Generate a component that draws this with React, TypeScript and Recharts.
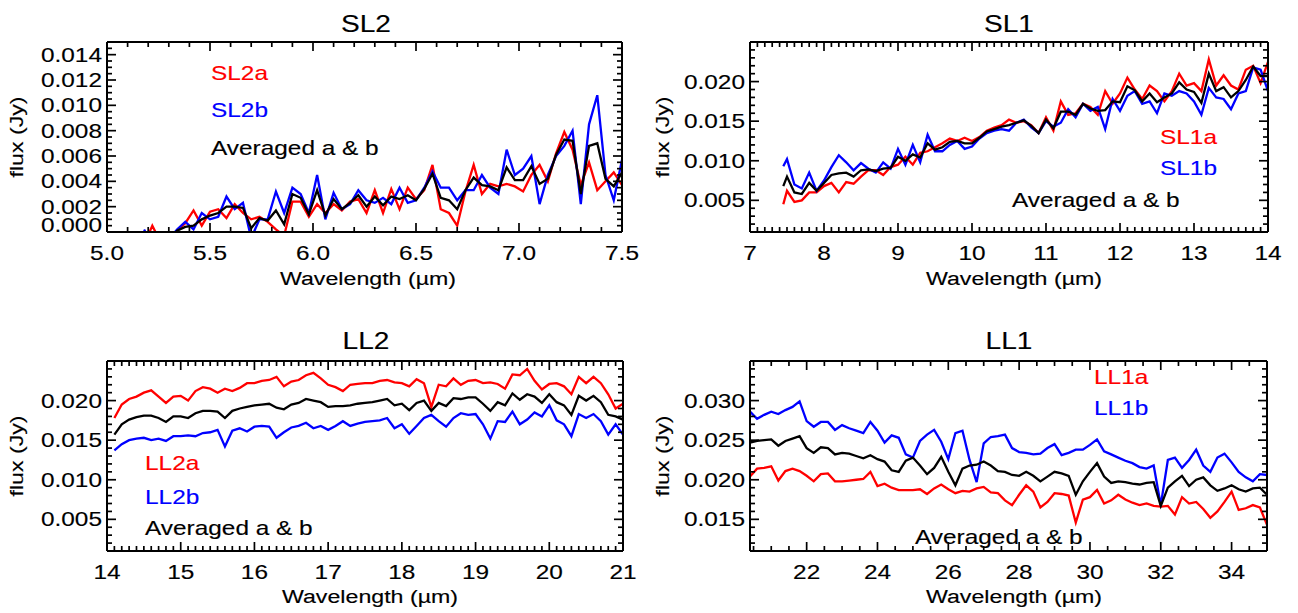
import React from 'react';
import { LineChart, Line, XAxis, YAxis } from 'recharts';

const FONT = '"Liberation Sans", Arial, Helvetica, sans-serif';
const SX = 1.22;

// ---------------- SL2 ----------------
const sl2X = [5.18, 5.22, 5.26, 5.30, 5.34, 5.38, 5.42, 5.46, 5.50, 5.54, 5.58, 5.62, 5.66, 5.70, 5.74, 5.78, 5.82, 5.86, 5.90, 5.94, 5.98, 6.02, 6.06, 6.10, 6.14, 6.18, 6.22, 6.26, 6.30, 6.34, 6.38, 6.42, 6.46, 6.50, 6.54, 6.58, 6.62, 6.66, 6.70, 6.74, 6.78, 6.82, 6.86, 6.90, 6.94, 6.98, 7.02, 7.06, 7.10, 7.14, 7.18, 7.22, 7.26, 7.30, 7.34, 7.38, 7.42, 7.46, 7.50];
const sl2a = [-0.001, 0.0005, -0.0008, -0.001, 0.0001, 0.0007, 0.0017, 0.0005, 0.0016, 0.0018, 0.0011, 0.0022, 0.0015, 0.001, 0.0012, 0.0008, 0.0002, -0.0003, 0.0024, 0.0024, 0.0012, 0.0022, 0.0015, 0.0022, 0.0017, 0.0024, 0.0026, 0.0015, 0.0033, 0.0015, 0.0034, 0.0018, 0.0035, 0.0026, 0.0033, 0.0053, 0.0018, 0.0015, 0.0005, 0.0032, 0.0053, 0.003, 0.0038, 0.0036, 0.0038, 0.0036, 0.0032, 0.0045, 0.0053, 0.004, 0.0062, 0.0079, 0.0065, 0.0037, 0.0055, 0.0033, 0.004, 0.0047, 0.0037];
const sl2b = [0.0002, -0.001, -0.001, -0.0006, 0.0002, 0.0008, 0.0002, 0.0015, 0.001, 0.0012, 0.0028, 0.0018, 0.0023, -0.0005, 0.001, 0.001, 0.0032, 0.0015, 0.0035, 0.003, 0.0015, 0.0045, 0.001, 0.0031, 0.0018, 0.0022, 0.0033, 0.0025, 0.0023, 0.0027, 0.0022, 0.0035, 0.0023, 0.0025, 0.0035, 0.0048, 0.0035, 0.0035, 0.0025, 0.0033, 0.0033, 0.0045, 0.0035, 0.003, 0.0065, 0.0045, 0.005, 0.006, 0.0022, 0.0045, 0.006, 0.0068, 0.008, 0.0022, 0.0085, 0.0108, 0.0045, 0.0025, 0.0057];
const sl2m = [-0.0004, -0.0002, -0.0009, -0.0008, 0.0001, 0.0004, 0.0005, 0.001, 0.0013, 0.0015, 0.002, 0.002, 0.0019, 0.0003, 0.0011, 0.0009, 0.0017, 0.0006, 0.003, 0.0027, 0.0014, 0.0033, 0.0013, 0.0026, 0.0018, 0.0023, 0.0029, 0.002, 0.0028, 0.0021, 0.0028, 0.0026, 0.0029, 0.0025, 0.0034, 0.0046, 0.0027, 0.0025, 0.0018, 0.0033, 0.0043, 0.0037, 0.0036, 0.0033, 0.0051, 0.0041, 0.0041, 0.0052, 0.0038, 0.0042, 0.0061, 0.0073, 0.0072, 0.003, 0.0068, 0.007, 0.0042, 0.0036, 0.0047];
const sl2XTicks = [5.0, 5.5, 6.0, 6.5, 7.0, 7.5];
const sl2YTicks = [0, 0.002, 0.004, 0.006, 0.008, 0.01, 0.012, 0.014];

// ---------------- SL1 ----------------
const sl1X = [7.45, 7.5, 7.6, 7.7, 7.8, 7.9, 8.0, 8.1, 8.2, 8.3, 8.4, 8.5, 8.6, 8.7, 8.8, 8.9, 9.0, 9.1, 9.2, 9.3, 9.4, 9.5, 9.6, 9.7, 9.8, 9.9, 10.0, 10.1, 10.2, 10.3, 10.4, 10.5, 10.6, 10.7, 10.8, 10.9, 11.0, 11.1, 11.2, 11.3, 11.4, 11.5, 11.6, 11.7, 11.8, 11.9, 12.0, 12.1, 12.2, 12.3, 12.4, 12.5, 12.6, 12.7, 12.8, 12.9, 13.0, 13.1, 13.2, 13.3, 13.4, 13.5, 13.6, 13.7, 13.8, 13.9, 14.0];
const sl1a = [0.0045, 0.0062, 0.0048, 0.005, 0.006, 0.006, 0.0068, 0.0072, 0.006, 0.0073, 0.0071, 0.008, 0.0088, 0.0088, 0.0082, 0.0092, 0.0095, 0.0105, 0.0095, 0.011, 0.0112, 0.0117, 0.0122, 0.0128, 0.0125, 0.0129, 0.0125, 0.013, 0.0138, 0.0142, 0.0145, 0.0152, 0.0148, 0.015, 0.0145, 0.0135, 0.0155, 0.0138, 0.0175, 0.0158, 0.016, 0.0172, 0.0168, 0.0158, 0.0188, 0.0172, 0.0185, 0.0205, 0.019, 0.0178, 0.0195, 0.0188, 0.0175, 0.0188, 0.021, 0.0195, 0.0198, 0.0188, 0.0228, 0.0195, 0.0208, 0.0195, 0.019, 0.0215, 0.022, 0.0198, 0.0225];
const sl1b = [0.0093, 0.0102, 0.007, 0.0065, 0.0085, 0.0062, 0.0075, 0.0092, 0.0107, 0.0098, 0.0088, 0.0097, 0.009, 0.0085, 0.0098, 0.009, 0.0115, 0.0095, 0.012, 0.0098, 0.0133, 0.0112, 0.0112, 0.012, 0.0125, 0.0115, 0.0118, 0.0128, 0.0135, 0.0138, 0.014, 0.0138, 0.0148, 0.0152, 0.0142, 0.0135, 0.015, 0.0143, 0.0148, 0.0165, 0.0155, 0.0172, 0.0163, 0.0168, 0.014, 0.0178, 0.0163, 0.0182, 0.0188, 0.0172, 0.0175, 0.016, 0.0185, 0.0182, 0.0188, 0.0185, 0.0175, 0.0158, 0.0192, 0.018, 0.0178, 0.0165, 0.0185, 0.0188, 0.0218, 0.0215, 0.0188];
const sl1m = [0.0068, 0.008, 0.006, 0.0058, 0.0072, 0.0062, 0.0072, 0.0082, 0.0084, 0.0085, 0.008, 0.0088, 0.0089, 0.0087, 0.009, 0.0091, 0.0105, 0.01, 0.0108, 0.0104, 0.0122, 0.0114, 0.0117, 0.0124, 0.0125, 0.0122, 0.0122, 0.0129, 0.0137, 0.014, 0.0143, 0.0145, 0.0148, 0.0151, 0.0144, 0.0135, 0.0152, 0.0141, 0.0162, 0.0162, 0.0158, 0.0172, 0.0166, 0.0163, 0.0164, 0.0175, 0.0174, 0.0194, 0.0189, 0.0175, 0.0185, 0.0174, 0.018, 0.0185, 0.0199, 0.019, 0.0187, 0.0173, 0.021, 0.0188, 0.0193, 0.018, 0.0188, 0.0202, 0.0219, 0.0207, 0.0207];
const sl1XTicks = [7, 8, 9, 10, 11, 12, 13, 14];
const sl1YTicks = [0.005, 0.01, 0.015, 0.02];

// ---------------- LL2 ----------------
const ll2X = [14.1, 14.2, 14.3, 14.4, 14.5, 14.6, 14.7, 14.8, 14.9, 15.0, 15.1, 15.2, 15.3, 15.4, 15.5, 15.6, 15.7, 15.8, 15.9, 16.0, 16.1, 16.2, 16.3, 16.4, 16.5, 16.6, 16.7, 16.8, 16.9, 17.0, 17.1, 17.2, 17.3, 17.4, 17.5, 17.6, 17.7, 17.8, 17.9, 18.0, 18.1, 18.2, 18.3, 18.4, 18.5, 18.6, 18.7, 18.8, 18.9, 19.0, 19.1, 19.2, 19.3, 19.4, 19.5, 19.6, 19.7, 19.8, 19.9, 20.0, 20.1, 20.2, 20.3, 20.4, 20.5, 20.6, 20.7, 20.8, 20.9, 21.0];
const ll2a = [0.0178, 0.0195, 0.0202, 0.0205, 0.021, 0.0213, 0.0205, 0.0197, 0.0205, 0.0206, 0.02, 0.0212, 0.0217, 0.0215, 0.021, 0.0215, 0.0212, 0.0216, 0.0222, 0.0222, 0.0225, 0.0226, 0.023, 0.0218, 0.0224, 0.0226, 0.0232, 0.0235, 0.0228, 0.022, 0.0217, 0.0212, 0.022, 0.0221, 0.0222, 0.0222, 0.0225, 0.0226, 0.0223, 0.0222, 0.0218, 0.0227, 0.0222, 0.0192, 0.022, 0.0218, 0.0228, 0.022, 0.0225, 0.0226, 0.0222, 0.0223, 0.0221, 0.0215, 0.0233, 0.0232, 0.024, 0.0225, 0.0214, 0.0221, 0.0222, 0.0218, 0.0208, 0.023, 0.0222, 0.023, 0.0222, 0.0208, 0.019, 0.0196];
const ll2b = [0.0137, 0.0145, 0.015, 0.0152, 0.0153, 0.015, 0.0152, 0.0149, 0.0155, 0.0155, 0.0156, 0.0155, 0.0159, 0.016, 0.0163, 0.0142, 0.0162, 0.0165, 0.0161, 0.0167, 0.0168, 0.0167, 0.0153, 0.016, 0.0166, 0.0168, 0.0172, 0.0165, 0.0168, 0.0163, 0.0168, 0.0174, 0.0168, 0.0171, 0.0173, 0.0174, 0.0175, 0.0178, 0.0165, 0.017, 0.0158, 0.0168, 0.0178, 0.0182, 0.0174, 0.0167, 0.0178, 0.0184, 0.0182, 0.0183, 0.017, 0.0152, 0.0174, 0.0173, 0.0186, 0.017, 0.0176, 0.0185, 0.018, 0.0194, 0.0175, 0.017, 0.0155, 0.0183, 0.0178, 0.0183, 0.0174, 0.0157, 0.017, 0.0157];
const ll2m = [0.0157, 0.017, 0.0176, 0.0179, 0.0181, 0.0181, 0.0178, 0.0173, 0.018, 0.018, 0.0178, 0.0184, 0.0187, 0.0187, 0.0186, 0.0178, 0.0187, 0.019, 0.0192, 0.0194, 0.0195, 0.0196, 0.0191, 0.0189, 0.0195, 0.0197, 0.0202, 0.02, 0.0198, 0.0192, 0.0193, 0.0193, 0.0194, 0.0196, 0.0197, 0.0198, 0.02, 0.0202, 0.0194, 0.0196, 0.0188, 0.0197, 0.02, 0.0187, 0.0197, 0.0193, 0.0203, 0.0202, 0.0204, 0.0204, 0.0196, 0.0187, 0.0198, 0.0194, 0.0209, 0.0201, 0.0208, 0.0205, 0.0197, 0.0208, 0.0198, 0.0194, 0.0182, 0.0206, 0.02, 0.0206, 0.0198, 0.0182, 0.018, 0.0176];
const ll2XTicks = [14, 15, 16, 17, 18, 19, 20, 21];
const ll2YTicks = [0.005, 0.01, 0.015, 0.02];

// ---------------- LL1 ----------------
const ll1X = [20.4, 20.6, 20.8, 21.0, 21.2, 21.4, 21.6, 21.8, 22.0, 22.2, 22.4, 22.6, 22.8, 23.0, 23.2, 23.4, 23.6, 23.8, 24.0, 24.2, 24.4, 24.6, 24.8, 25.0, 25.2, 25.4, 25.6, 25.8, 26.0, 26.2, 26.4, 26.6, 26.8, 27.0, 27.2, 27.4, 27.6, 27.8, 28.0, 28.2, 28.4, 28.6, 28.8, 29.0, 29.2, 29.4, 29.6, 29.8, 30.0, 30.2, 30.4, 30.6, 30.8, 31.0, 31.2, 31.4, 31.6, 31.8, 32.0, 32.2, 32.4, 32.6, 32.8, 33.0, 33.2, 33.4, 33.6, 33.8, 34.0, 34.2, 34.4, 34.6, 34.8, 35.0];
const ll1a = [0.0204, 0.0214, 0.0215, 0.0217, 0.0199, 0.0211, 0.0214, 0.0211, 0.0205, 0.0198, 0.0207, 0.0208, 0.0198, 0.0198, 0.0199, 0.02, 0.0201, 0.021, 0.0192, 0.0195, 0.019, 0.0187, 0.0187, 0.0187, 0.0188, 0.0182, 0.0189, 0.0194, 0.0188, 0.0183, 0.0186, 0.0185, 0.0189, 0.0191, 0.0184, 0.0183, 0.0174, 0.0168, 0.0181, 0.0193, 0.0185, 0.0165, 0.0172, 0.0183, 0.0182, 0.018, 0.0146, 0.0175, 0.0178, 0.0187, 0.017, 0.0174, 0.0181, 0.0175, 0.0171, 0.0168, 0.017, 0.0167, 0.0166, 0.0167, 0.0156, 0.0178, 0.017, 0.0172, 0.0163, 0.0152, 0.016, 0.0172, 0.0185, 0.0162, 0.0164, 0.0168, 0.0165, 0.0143];
const ll1b = [0.0286, 0.0277, 0.0282, 0.0286, 0.0283, 0.0288, 0.0292, 0.0299, 0.0274, 0.0267, 0.0273, 0.0273, 0.0263, 0.0269, 0.0265, 0.0262, 0.0259, 0.0273, 0.0262, 0.0247, 0.0256, 0.0253, 0.0232, 0.0228, 0.0249, 0.0257, 0.0263, 0.0248, 0.0226, 0.0259, 0.0262, 0.0225, 0.0197, 0.0246, 0.0254, 0.0255, 0.0257, 0.024, 0.0235, 0.0234, 0.0232, 0.0233, 0.024, 0.0245, 0.0231, 0.0234, 0.0238, 0.0238, 0.0244, 0.0251, 0.0236, 0.0232, 0.0228, 0.0224, 0.0221, 0.0216, 0.0214, 0.0218, 0.0168, 0.0225, 0.0228, 0.0215, 0.0225, 0.0238, 0.0218, 0.021, 0.0228, 0.0233, 0.0222, 0.021, 0.0203, 0.0198, 0.0207, 0.0206];
const ll1m = [0.0247, 0.0249, 0.025, 0.0251, 0.0243, 0.0249, 0.0252, 0.0255, 0.024, 0.0234, 0.0241, 0.024, 0.0232, 0.0234, 0.0233, 0.023, 0.0227, 0.0231, 0.0226, 0.0223, 0.0212, 0.021, 0.0224, 0.0228, 0.0218, 0.0207, 0.0215, 0.0229, 0.021, 0.0193, 0.0214, 0.0218, 0.0219, 0.0223, 0.0218, 0.0211, 0.021, 0.0206, 0.0205, 0.021, 0.0205, 0.0198, 0.0204, 0.021, 0.0208, 0.0205, 0.0181, 0.0198, 0.021, 0.0221, 0.0204, 0.0196, 0.0198, 0.0197, 0.0195, 0.0194, 0.0196, 0.0197, 0.0167, 0.019, 0.0198, 0.0205, 0.0192, 0.02, 0.0203, 0.0193, 0.0186, 0.0189, 0.0193, 0.0188, 0.0185, 0.0189, 0.019, 0.0181];
const ll1XTicks = [22, 24, 26, 28, 30, 32, 34];
const ll1YTicks = [0.015, 0.02, 0.025, 0.03];

// ---------------- helpers ----------------
function steps(start: number, end: number, step: number): number[] {
  const out: number[] = [];
  const n = Math.round((end - start) / step);
  for (let i = 0; i <= n; i++) out.push(+(start + i * step).toFixed(6));
  return out;
}
const isMajor = (arr: number[], v: number) => arr.some((m) => Math.abs(m - v) < 1e-7);
const MAJ = 9;
const MIN = 5;
const TW = 1.7;

function STxt(props: { x: number; y: number; anchor?: string; size?: number; fill?: string; rotate?: boolean; children: React.ReactNode }) {
  const { x, y, anchor = 'start', size = 20, fill = '#000', rotate = false, children } = props;
  const t = rotate ? `translate(${x},${y}) rotate(-90) scale(${SX},1)` : `translate(${x},${y}) scale(${SX},1)`;
  return (
    <text transform={t} textAnchor={anchor as any} fontFamily={FONT} fontSize={size} fill={fill}
      stroke={fill} strokeWidth={0.15}>
      {children}
    </text>
  );
}

const bottomTick = (majors: number[], fmt: (v: number) => string) => (p: any) => {
  const { x, y, payload } = p;
  const v = payload.value;
  const mj = isMajor(majors, v);
  return (
    <g>
      <line x1={x} x2={x} y1={y} y2={y - (mj ? MAJ : MIN)} stroke="#000" strokeWidth={TW} />
      {mj && <STxt x={x} y={y + 28} anchor="middle">{fmt(v)}</STxt>}
    </g>
  );
};
const topTick = (majors: number[]) => (p: any) => {
  const { x, y, payload } = p;
  const mj = isMajor(majors, payload.value);
  return <line x1={x} x2={x} y1={y} y2={y + (mj ? MAJ : MIN)} stroke="#000" strokeWidth={TW} />;
};
const leftTick = (majors: number[], fmt: (v: number) => string, floor: number) => (p: any) => {
  const { x, y, payload } = p;
  const v = payload.value;
  const mj = isMajor(majors, v);
  return (
    <g>
      <line x1={x} x2={x + (mj ? MAJ : MIN)} y1={y} y2={y} stroke="#000" strokeWidth={TW} />
      {mj && <STxt x={x - 5} y={Math.min(y + 7, floor)} anchor="end">{fmt(v)}</STxt>}
    </g>
  );
};
const rightTick = (majors: number[]) => (p: any) => {
  const { x, y, payload } = p;
  const mj = isMajor(majors, payload.value);
  return <line x1={x} x2={x - (mj ? MAJ : MIN)} y1={y} y2={y} stroke="#000" strokeWidth={TW} />;
};

type PanelCfg = {
  name: string;
  x: number[]; a: number[]; b: number[]; m: number[];
  xDomain: [number, number]; yDomain: [number, number];
  xMajor: number[]; xMinor: number[]; yMajor: number[]; yMinor: number[];
  xFmt: (v: number) => string; yFmt: (v: number) => string;
  left: number; top: number; width: number; height: number;
  margin: { top: number; right: number; bottom: number; left: number };
  yAxisWidth: number; xAxisHeight: number; floor: number;
};

const y3 = (v: number) => v.toFixed(3);

const PANELS: PanelCfg[] = [
  {
    name: 'SL2', x: sl2X, a: sl2a, b: sl2b, m: sl2m,
    xDomain: [5, 7.5], yDomain: [0, 0.015],
    xMajor: sl2XTicks, xMinor: steps(5, 7.5, 0.1), yMajor: sl2YTicks, yMinor: steps(0, 0.015, 0.0005),
    xFmt: (v) => v.toFixed(1), yFmt: y3,
    left: 0, top: 0, width: 649, height: 300,
    margin: { top: 41, right: 26, bottom: 0, left: 0 }, yAxisWidth: 107, xAxisHeight: 68, floor: 232,
  },
  {
    name: 'SL1', x: sl1X, a: sl1a, b: sl1b, m: sl1m,
    xDomain: [7, 14], yDomain: [0.001, 0.025],
    xMajor: sl1XTicks, xMinor: steps(7, 14, 0.1), yMajor: sl1YTicks, yMinor: steps(0.001, 0.025, 0.001),
    xFmt: (v) => String(v), yFmt: y3,
    left: 649, top: 0, width: 649, height: 300,
    margin: { top: 41, right: 29, bottom: 0, left: 0 }, yAxisWidth: 101, xAxisHeight: 68, floor: 9999,
  },
  {
    name: 'LL2', x: ll2X, a: ll2a, b: ll2b, m: ll2m,
    xDomain: [14, 21], yDomain: [0.001, 0.025],
    xMajor: ll2XTicks, xMinor: steps(14, 21, 0.1), yMajor: ll2YTicks, yMinor: steps(0.001, 0.025, 0.001),
    xFmt: (v) => String(v), yFmt: y3,
    left: 0, top: 300, width: 649, height: 313,
    margin: { top: 60, right: 25, bottom: 0, left: 0 }, yAxisWidth: 107, xAxisHeight: 62, floor: 9999,
  },
  {
    name: 'LL1', x: ll1X, a: ll1a, b: ll1b, m: ll1m,
    xDomain: [20.4, 35], yDomain: [0.011, 0.035],
    xMajor: ll1XTicks, xMinor: steps(20.5, 35, 0.5), yMajor: ll1YTicks, yMinor: steps(0.011, 0.035, 0.001),
    xFmt: (v) => String(v), yFmt: y3,
    left: 649, top: 300, width: 649, height: 313,
    margin: { top: 60, right: 30, bottom: 0, left: 0 }, yAxisWidth: 101, xAxisHeight: 62, floor: 9999,
  },
];

const AX = { stroke: '#000', strokeWidth: 2 };
const LW = 2.3;

function PanelChart({ p }: { p: PanelCfg }) {
  const data = p.x.map((x, i) => ({ x, a: p.a[i], b: p.b[i], m: p.m[i] }));
  return (
    <div style={{ position: 'absolute', left: p.left, top: p.top }}>
      <LineChart width={p.width} height={p.height} data={data} margin={p.margin}>
        <XAxis xAxisId="b" orientation="bottom" dataKey="x" type="number" domain={p.xDomain} allowDataOverflow
          ticks={p.xMinor} interval={0} height={p.xAxisHeight} tickSize={0} tickMargin={0}
          axisLine={AX} tickLine={false} tick={bottomTick(p.xMajor, p.xFmt)} />
        <XAxis xAxisId="t" orientation="top" dataKey="x" type="number" domain={p.xDomain} allowDataOverflow
          ticks={p.xMinor} interval={0} height={1} tickSize={0} tickMargin={0}
          axisLine={AX} tickLine={false} tick={topTick(p.xMajor)} />
        <YAxis yAxisId="l" orientation="left" type="number" domain={p.yDomain} allowDataOverflow
          ticks={p.yMinor} interval={0} width={p.yAxisWidth} tickSize={0} tickMargin={0}
          axisLine={AX} tickLine={false} tick={leftTick(p.yMajor, p.yFmt, p.floor)} />
        <YAxis yAxisId="r" orientation="right" type="number" domain={p.yDomain} allowDataOverflow
          ticks={p.yMinor} interval={0} width={1} tickSize={0} tickMargin={0}
          axisLine={AX} tickLine={false} tick={rightTick(p.yMajor)} />
        <Line xAxisId="t" yAxisId="r" type="linear" dataKey="m" stroke="none" strokeWidth={0} dot={false} activeDot={false} isAnimationActive={false} />
        <Line xAxisId="b" yAxisId="l" type="linear" dataKey="a" stroke="#ff0000" strokeWidth={LW} dot={false} isAnimationActive={false} />
        <Line xAxisId="b" yAxisId="l" type="linear" dataKey="b" stroke="#0000ff" strokeWidth={LW} dot={false} isAnimationActive={false} />
        <Line xAxisId="b" yAxisId="l" type="linear" dataKey="m" stroke="#000000" strokeWidth={LW} dot={false} isAnimationActive={false} />
      </LineChart>
    </div>
  );
}

const RED = '#ff0000';
const BLUE = '#0000ff';

export default function App() {
  return (
    <div style={{ position: 'absolute', left: 0, top: 0, width: 1298, height: 613, background: '#fff', overflow: 'hidden' }}>
      {PANELS.map((p) => (
        <PanelChart key={p.name} p={p} />
      ))}
      <svg width={1298} height={613} style={{ position: 'absolute', left: 0, top: 0, pointerEvents: 'none' }}>
        {/* titles */}
        <STxt x={366} y={32} anchor="middle" size={23}>SL2</STxt>
        <STxt x={1009} y={32} anchor="middle" size={23}>SL1</STxt>
        <STxt x={366} y={349} anchor="middle" size={23}>LL2</STxt>
        <STxt x={1009} y={349} anchor="middle" size={23}>LL1</STxt>
        {/* x axis titles */}
        <STxt x={368} y={285} anchor="middle" size={19}>Wavelength (µm)</STxt>
        <STxt x={1014} y={285} anchor="middle" size={19}>Wavelength (µm)</STxt>
        <STxt x={370} y={603} anchor="middle" size={19}>Wavelength (µm)</STxt>
        <STxt x={1014} y={603} anchor="middle" size={19}>Wavelength (µm)</STxt>
        {/* y axis titles */}
        <STxt x={23} y={137} anchor="middle" size={19} rotate>flux (Jy)</STxt>
        <STxt x={669} y={137} anchor="middle" size={19} rotate>flux (Jy)</STxt>
        <STxt x={23} y={456} anchor="middle" size={19} rotate>flux (Jy)</STxt>
        <STxt x={669} y={456} anchor="middle" size={19} rotate>flux (Jy)</STxt>
        {/* legends */}
        <STxt x={211} y={80} fill={RED}>SL2a</STxt>
        <STxt x={211} y={117} fill={BLUE}>SL2b</STxt>
        <STxt x={211} y={155}>Averaged a &amp; b</STxt>
        <STxt x={1160} y={144} fill={RED}>SL1a</STxt>
        <STxt x={1160} y={175} fill={BLUE}>SL1b</STxt>
        <STxt x={1012} y={207}>Averaged a &amp; b</STxt>
        <STxt x={145} y={470} fill={RED}>LL2a</STxt>
        <STxt x={145} y={504} fill={BLUE}>LL2b</STxt>
        <STxt x={145} y={535}>Averaged a &amp; b</STxt>
        <STxt x={1094} y={384} fill={RED}>LL1a</STxt>
        <STxt x={1094} y={415} fill={BLUE}>LL1b</STxt>
        <STxt x={915} y={544}>Averaged a &amp; b</STxt>
      </svg>
    </div>
  );
}
